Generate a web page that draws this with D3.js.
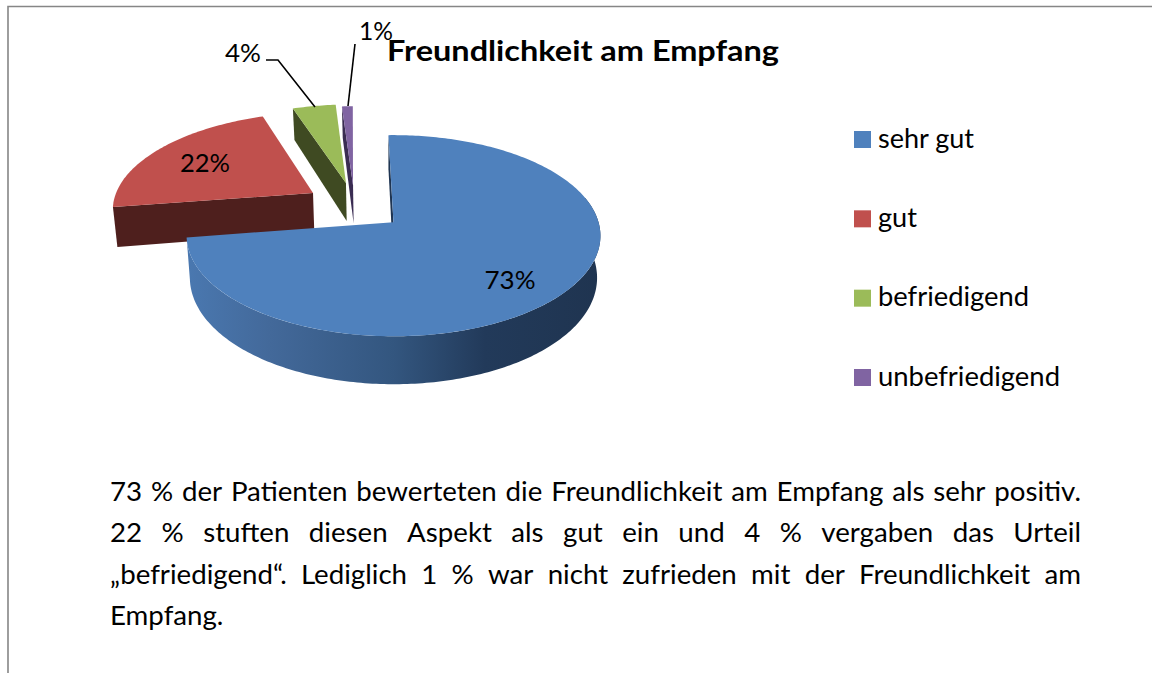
<!DOCTYPE html>
<html>
<head>
<meta charset="utf-8">
<title>Freundlichkeit am Empfang</title>
<script src="https://cdn.jsdelivr.net/npm/d3@7"></script>
<style>
  html, body { margin: 0; padding: 0; background: #fff; overflow: hidden; }
  svg { display: block; }
  text { font-family: Lato, "Open Sans", sans-serif; fill: #000; }
</style>
</head>
<body>
<script>
// Chart data
var categories = ["sehr gut", "gut", "befriedigend", "unbefriedigend"];
var values = [73, 22, 4, 1];
var chartTitle = "Freundlichkeit am Empfang";
var bodyLines = [
    "73 % der Patienten bewerteten die Freundlichkeit am Empfang als sehr positiv.",
    "22 % stuften diesen Aspekt als gut ein und 4 % vergaben das Urteil",
    "\u201Ebefriedigend\u201C. Lediglich 1 % war nicht zufrieden mit der Freundlichkeit am",
    "Empfang."
];

//////////////////////////////////////////////////////////////////////////////
// Preliminaries

var width = 1152, height = 673;

var topColors  = ["#4F81BD", "#C0504D", "#9BBB59", "#8064A2"];
var wallColors = ["#1F3552", "#4E1F1D", "#3F4A22", "#3A2C52"];

// how far each slice is pulled out of the pie, in pie-plane units
var explodeU = [0.012, -0.396, -0.232, -0.195];
var explodeV = [0.002, -0.306, -0.417, -0.393];

// label centres, and reference widths used to fit the Lato glyphs
var labelX = [510, 205, 243, 376];
var labelY = [280, 163, 53, 31];
var labelW = [51, 50, 36, 34];

var svg = d3.select("body").append("svg")
    .attr("width", width)
    .attr("height", height);

// Perspective of the tilted pie: u runs right, v towards the viewer, z downwards
var cx = 391, cy = 222, rx = 205, ry = 98.7, persp = 0.134, depth = 41;

function project(u, v, z) {
    var w = 1 - persp * v;
    var shrink = 1 - 0.016 * z;
    return [cx + rx * u / w * shrink,
            cy + ry * v / w + depth * z * (1 + 0.17 * v)];
}

var slices = d3.pie().sort(null).value(function(d) { return d; })
    .startAngle(-1.5 * Math.PI / 180)
    .endAngle((360 - 1.5) * Math.PI / 180)(values);

function rimPoint(i, a, z) {
    return project(explodeU[i] + Math.sin(a), explodeV[i] - Math.cos(a), z);
}

function tipPoint(i, z) {
    return project(explodeU[i], explodeV[i], z);
}

function arcPoints(i, a0, a1, z) {
    var n = Math.max(4, Math.ceil(Math.abs(a1 - a0) * 60));
    return d3.range(n + 1).map(function(k) {
        return rimPoint(i, a0 + (a1 - a0) * k / n, z);
    });
}

var closedLine = function(pts) { return d3.line()(pts) + "Z"; };

//////////////////////////////////////////////////////////////////////////////
// Frame

svg.append("path")
    .attr("d", "M8,673V6.5H1152")
    .attr("fill", "none")
    .attr("stroke", "#868686")
    .attr("stroke-width", 1.6);

//////////////////////////////////////////////////////////////////////////////
// Pie

var wallGrad = svg.append("defs").append("linearGradient")
    .attr("id", "blueWall")
    .attr("gradientUnits", "userSpaceOnUse")
    .attr("x1", 187).attr("x2", 601).attr("y1", 0).attr("y2", 0);

wallGrad.selectAll("stop")
    .data([[0, "#4A78B0"], [0.2, "#43699A"], [0.5, "#33567F"], [0.72, "#223A5A"], [1, "#1F3450"]])
    .enter().append("stop")
    .attr("offset", function(d) { return d[0]; })
    .attr("stop-color", function(d) { return d[1]; });

// small slices first, the big blue one sits in front of them
var drawOrder = [1, 2, 3, 0];

var sliceGroups = svg.append("g").selectAll("g")
    .data(drawOrder)
    .enter().append("g");

// straight wall along the start edge of each slice
sliceGroups.append("path")
    .attr("d", function(i) {
        var a = slices[i].startAngle;
        return closedLine([rimPoint(i, a, 0), tipPoint(i, 0), tipPoint(i, 1), rimPoint(i, a, 1)]);
    })
    .attr("fill", function(i) { return wallColors[i]; });

// curved outer wall, only the blue slice shows it
sliceGroups.filter(function(i) { return i === 0; }).append("path")
    .attr("d", function(i) {
        var a0 = 75 * Math.PI / 180, a1 = slices[i].endAngle;
        return closedLine(arcPoints(i, a0, a1, 0).concat(arcPoints(i, a1, a0, 1)));
    })
    .attr("fill", "url(#blueWall)");

sliceGroups.append("path")
    .attr("d", function(i) {
        return closedLine([tipPoint(i, 0)].concat(arcPoints(i, slices[i].startAngle, slices[i].endAngle, 0)));
    })
    .attr("fill", function(i) { return topColors[i]; });

//////////////////////////////////////////////////////////////////////////////
// Leader lines and labels

svg.append("g").selectAll("path")
    .data([[[266, 60], [278, 60], [315, 107]], [[355, 44], [348, 106]]])
    .enter().append("path")
    .attr("d", d3.line())
    .attr("fill", "none")
    .attr("stroke", "#000")
    .attr("stroke-width", 1.6);

// the title comes after the labels, the "1%" runs under it
svg.append("g").selectAll("text")
    .data(values)
    .enter().append("text")
    .attr("x", function(d, i) { return labelX[i]; })
    .attr("y", function(d, i) { return labelY[i]; })
    .attr("dy", "0.36em")
    .attr("text-anchor", "middle")
    .attr("font-size", 25)
    .attr("textLength", function(d, i) { return labelW[i]; })
    .attr("lengthAdjust", "spacingAndGlyphs")
    .text(function(d) { return d + "%"; });

svg.append("text")
    .attr("x", 387)
    .attr("y", 61)
    .attr("font-size", 29)
    .attr("font-weight", "bold")
    .attr("textLength", 392)
    .attr("lengthAdjust", "spacingAndGlyphs")
    .text(chartTitle);

//////////////////////////////////////////////////////////////////////////////
// Legend

var legendY = d3.scalePoint().domain(categories).range([139.5, 377.5]);
var legendWidths = [96, 39, 151, 182];

var legend = svg.append("g").selectAll("g")
    .data(categories)
    .enter().append("g")
    .attr("transform", function(d) { return "translate(854," + legendY(d) + ")"; });

legend.append("rect")
    .attr("y", -8.5)
    .attr("width", 17)
    .attr("height", 17)
    .attr("fill", function(d, i) { return topColors[i]; });

legend.append("text")
    .attr("x", 24)
    .attr("y", 8)
    .attr("font-size", 26)
    .attr("textLength", function(d, i) { return legendWidths[i]; })
    .attr("lengthAdjust", "spacingAndGlyphs")
    .text(function(d) { return d; });

//////////////////////////////////////////////////////////////////////////////
// Justified paragraph below the chart, laid out word by word

var textLeft = 110, textRight = 1081;
var lineY = d3.scaleLinear().domain([0, 3]).range([501, 625]);
var squeeze = 1.044;

var para = svg.append("g");

bodyLines.forEach(function(line, li) {
    var words = line.split(" ");
    var nodes = words.map(function(w) {
        return para.append("text")
            .attr("y", lineY(li))
            .attr("font-size", 26.5)
            .text(w);
    });
    var widths = nodes.map(function(n) { return n.node().getComputedTextLength() * squeeze; });
    var total = d3.sum(widths);
    // last line stays left aligned
    var gap = li < bodyLines.length - 1 ? (textRight - textLeft - total) / (words.length - 1) : 6;
    var x = textLeft;
    nodes.forEach(function(n, k) {
        n.attr("x", x)
         .attr("textLength", widths[k])
         .attr("lengthAdjust", "spacingAndGlyphs");
        x += widths[k] + gap;
    });
});
</script>
</body>
</html>
